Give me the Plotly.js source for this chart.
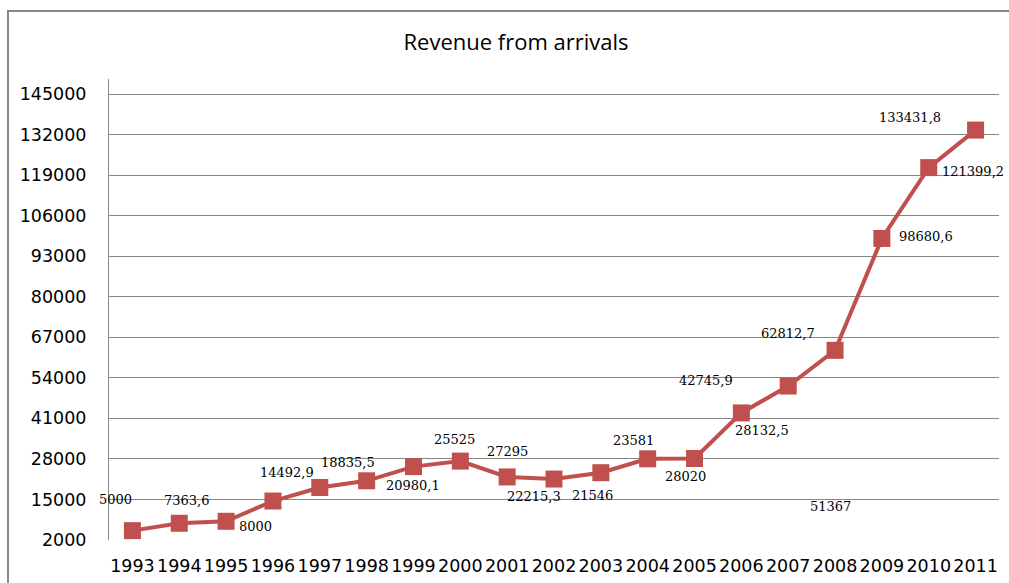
<!DOCTYPE html>
<html>
<head>
<meta charset="utf-8">
<script src="https://cdn.plot.ly/plotly-3.0.1.min.js"></script>
<style>html,body{margin:0;padding:0;background:#fff;}#chart{width:1009px;height:583px;}</style>
</head>
<body>
<div id="chart"></div>
<script>
// Data
const years = ['1993','1994','1995','1996','1997','1998','1999','2000','2001','2002','2003','2004','2005','2006','2007','2008','2009','2010','2011'];
const revenue = [5000, 7363.6, 8000, 14492.9, 18835.5, 20980.1, 25525, 27295, 22215.3, 21546, 23581, 28020, 28132.5, 42745.9, 51367, 62812.7, 98680.6, 121399.2, 133431.8];
const labelTexts = ['5000','7363,6','8000','14492,9','18835,5','20980,1','25525','27295','22215,3','21546','23581','28020','28132,5','42745,9','51367','62812,7','98680,6','121399,2','133431,8'];
const yTicks = [2000, 15000, 28000, 41000, 54000, 67000, 80000, 93000, 106000, 119000, 132000, 145000];

// Label placement (pixel shifts from each marker) - layout only
const labelShift = [[-17,31],[8,23],[29,-5],[14,29],[28,25],[46,-5],[41,27],[47,10],[27,-20],[38,-16],[33,32],[38,-18],[67,28],[-35,32],[42,-120],[-47,17],[44,2],[44,-4],[-66,13]];

const red = '#C0504D';
const grid = '#878787';

const trace = {
  type: 'scatter', mode: 'lines+markers',
  x: years, y: revenue,
  line: {color: red, width: 4},
  marker: {symbol: 'square', size: 17, color: red, line: {width: 0}},
  hoverinfo: 'x+y'
};

const annotations = years.map((yr, i) => ({
  x: i, y: revenue[i], xref: 'x', yref: 'y',
  text: labelTexts[i], showarrow: false,
  xshift: labelShift[i][0], yshift: labelShift[i][1],
  font: {family: 'DejaVu Serif', size: 13, color: '#000'},
  xanchor: 'center', yanchor: 'middle'
}));

const layout = {
  width: 1009, height: 583,
  margin: {l: 109, r: 10, t: 79, b: 43},
  paper_bgcolor: '#fff', plot_bgcolor: '#fff',
  showlegend: false,
  title: {
    text: 'Revenue from arrivals', xref: 'paper', yref: 'container',
    x: (516-109)/890, y: 1 - 42/583, xanchor: 'center', yanchor: 'middle',
    font: {family: 'Open Sans', size: 22, color: '#000'}
  },
  xaxis: {
    type: 'category', showgrid: false, zeroline: false,
    showline: false, ticks: '', ticklabelstandoff: 13, tickangle: 0,
    tickfont: {family: 'DejaVu Sans', size: 17.5, color: '#000'},
    range: [-0.5, 18.5]
  },
  yaxis: {
    range: [2000, 149810], tickmode: 'array', tickvals: yTicks,
    ticktext: yTicks.map(String),
    showgrid: true, gridcolor: grid, gridwidth: 1,
    zeroline: false, showline: true, linecolor: grid, linewidth: 1,
    ticks: '', ticklabelstandoff: 18,
    tickfont: {family: 'DejaVu Sans', size: 17.5, color: '#000'}
  },
  shapes: [{
    type: 'rect', xref: 'paper', yref: 'paper',
    x0: (8-109)/890, x1: (1015-109)/890,
    y0: (540-600)/461, y1: (540-11)/461,
    line: {color: '#888', width: 2}, fillcolor: 'rgba(0,0,0,0)', layer: 'below'
  }],
  annotations: annotations
};

Plotly.newPlot('chart', [trace], layout, {displayModeBar: false, staticPlot: true});
</script>
</body>
</html>
